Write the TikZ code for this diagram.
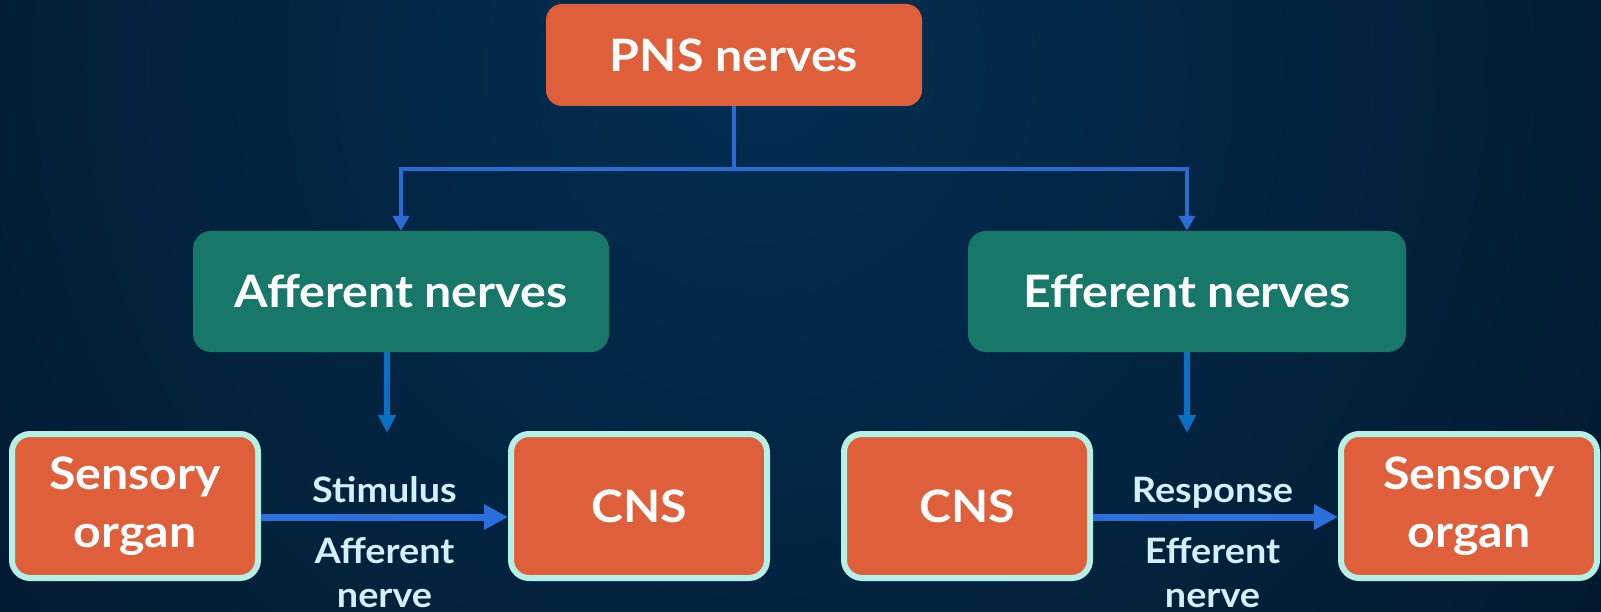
\documentclass[tikz,border=0pt]{standalone}
\usepackage{fontspec}
\setmainfont{Lato}[FakeStretch=1.08]
\usetikzlibrary{arrows.meta,calc}

\definecolor{orangebox}{HTML}{E05F3B}
\definecolor{greenbox}{HTML}{17786A}
\definecolor{rimcyan}{HTML}{B4F0E6}
\definecolor{treeblue}{HTML}{2B6CD4}
\definecolor{dropblue}{HTML}{0A70C6}
\definecolor{flowblue}{HTML}{2A6FDC}
\definecolor{labelcyan}{HTML}{D3F0FA}
\definecolor{bgcore}{HTML}{022E52}
\definecolor{bgedge}{HTML}{010A13}

\begin{document}
\begin{tikzpicture}[x=1pt,y=-1pt,
  boxtext/.style={font=\fontsize{44.7}{58}\selectfont\bfseries, text=white, align=center, inner sep=0pt},
  topbox/.style={boxtext, fill=orangebox, rounded corners=16pt,
    minimum width=376pt, minimum height=102pt},
  midbox/.style={boxtext, fill=greenbox, rounded corners=18pt, minimum height=121pt},
  lowbox/.style={boxtext, fill=orangebox, draw=rimcyan, line width=6pt,
    rounded corners=18pt, minimum height=144pt},
  lbl/.style={font=\fontsize{35}{44}\selectfont\bfseries, text=labelcyan, align=center, inner sep=0pt},
  tree/.style={draw=treeblue, line width=4pt},
  treetip/.style={tree, -{Triangle[length=15pt,width=16pt]}},
  drop/.style={draw=dropblue, line width=5.5pt, -{Triangle[length=18pt,width=17pt]}},
  flow/.style={draw=flowblue, line width=7pt, -{Triangle[length=24pt,width=24pt]}},
]
% backdrop
\useasboundingbox (0,0) rectangle (1601,612);
\begin{scope}
  \clip (0,0) rectangle (1601,612);
  \shade[inner color=bgcore, outer color=bgedge] (760,70) circle (1800pt);
\end{scope}

% boxes
\node[topbox] (pns) at (734,55) {PNS nerves};
\node[midbox, minimum width=416pt] (aff) at (401,291.5) {Afferent nerves};
\node[midbox, minimum width=438pt] (eff) at (1187,291.5) {Efferent nerves};

\node[lowbox, minimum width=246pt] (so1)  at (135,506)  {Sensory\\organ};
\node[lowbox, minimum width=256pt] (cns1) at (639,506)  {CNS};
\node[lowbox, minimum width=246pt] (cns2) at (967,506)  {CNS};
\node[lowbox, minimum width=256pt] (so2)  at (1469,506) {Sensory\\organ};

% branching from the top box
\coordinate (fork) at ($(pns.south)+(0,63)$);
\draw[tree] (pns.south) -- (fork);
\draw[treetip] (fork) -| (aff.north);
\draw[treetip] (fork) -| (eff.north);

% drops into the lower rows
\coordinate (afftip) at ($(so1.north)!0.5!(cns1.north)+(0,2)$);
\draw[drop] (aff.south -| afftip) -- (afftip);
\coordinate (efftip) at ($(eff.south |- cns2.north)+(0,2)$);
\draw[drop] (eff.south) -- (efftip);

% signal flow
\draw[flow] ([yshift=-11pt]so1.east) -- ([yshift=-11pt]cns1.west)
  coordinate[midway] (m1);
\draw[flow] ([yshift=-11pt]cns2.east) -- ([yshift=-11pt]so2.west)
  coordinate[midway] (m2);

% labels: a multi-line node sits on the baseline of its last line
\node[lbl, anchor=base] (stim) at ($(m1)+(0,-15)$) {Stimulus};
\node[lbl, anchor=base] (affn) at ($(m1)+(0,90)$) {Afferent\\nerve};
\node[lbl, anchor=base] (resp) at ($(m2)+(-3,-15)$) {Response};
\node[lbl, anchor=base] (effn) at ($(m2)+(-3,90)$) {Efferent\\nerve};
\end{tikzpicture}
\end{document}
